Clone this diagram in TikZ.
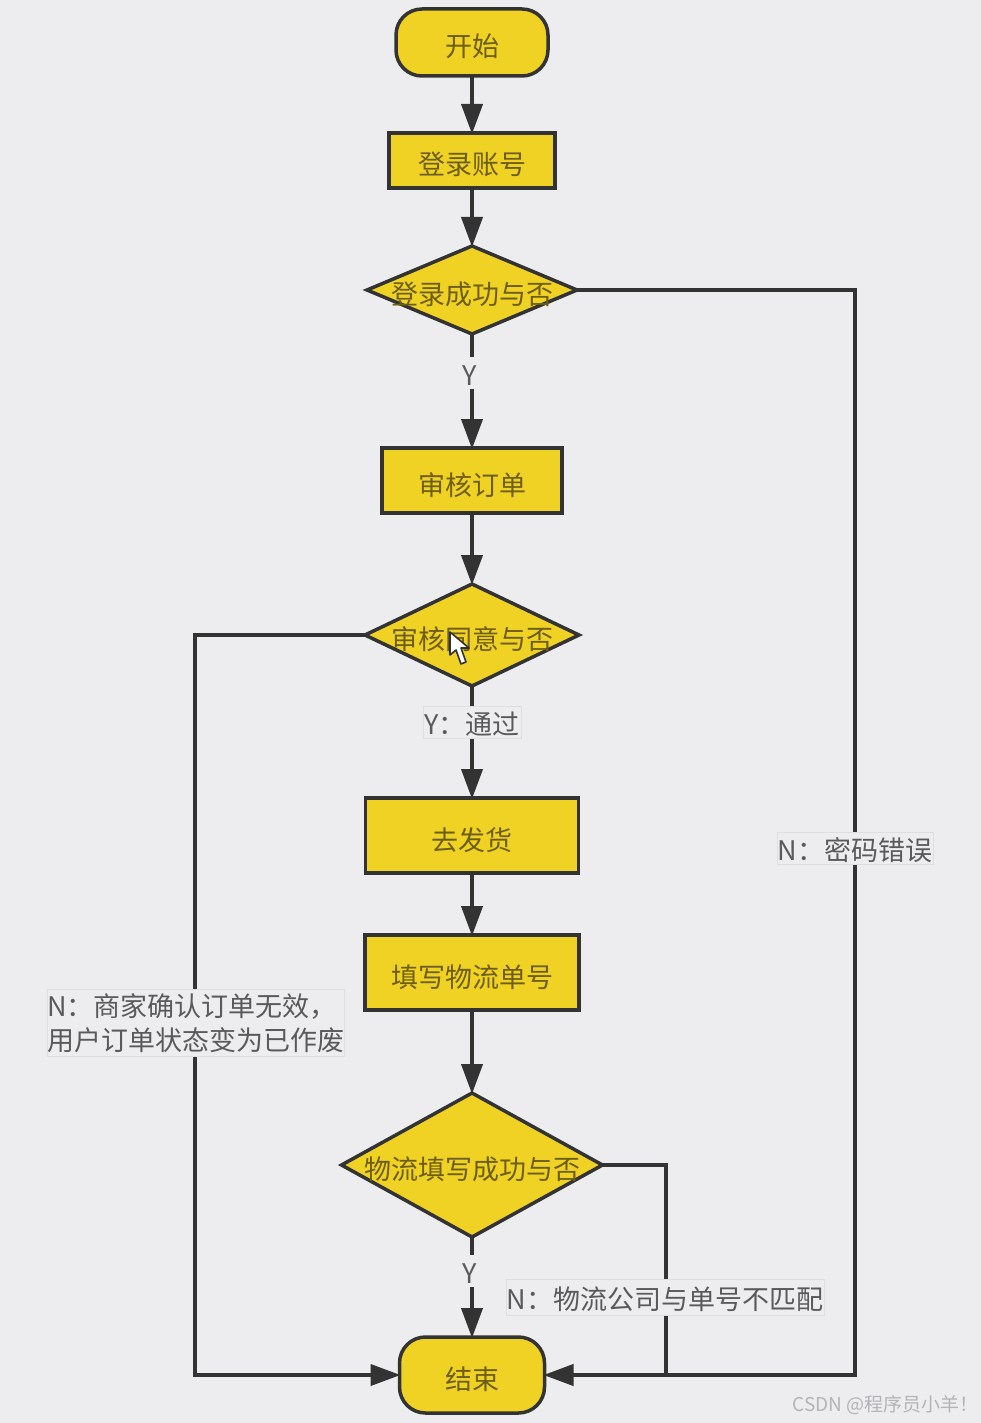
\documentclass[tikz,border=0pt]{standalone}
\usepackage{fontspec}
\setmainfont{Noto Sans CJK SC}
\usetikzlibrary{shapes.geometric,arrows.meta,positioning}
\definecolor{bgc}{HTML}{EDECEE}
\definecolor{fillc}{HTML}{EFD224}
\definecolor{linec}{HTML}{333333}
\definecolor{txtc}{HTML}{6E5E14}
\definecolor{lblc}{HTML}{5A5A5C}
\definecolor{edgec}{HTML}{DEDEE0}
\definecolor{markc}{HTML}{B4B4B8}
\newcommand{\fsz}{\fontsize{27}{34}\selectfont}
\newcommand{\ctext}[1]{\makebox[0pt]{\smash{\raisebox{-14.5pt}{#1}}}}
\newcommand{\ltext}[1]{\smash{\raisebox{-12pt}{#1}}}
\newcommand{\fwcolon}{\symbol{"FF1A}}
\newcommand{\fwcomma}{\symbol{"FF0C}}
\newcommand{\fwbang}{\symbol{"FF01}}
\tikzset{
  x=1pt,y=-1pt,
  shapebase/.style={draw=linec,line width=3.5pt,fill=fillc,text=txtc,font=\fsz,inner sep=0pt,outer sep=0pt},
  termbox/.style={shapebase,rectangle,rounded corners=26pt,minimum width=#1},
  procbox/.style={shapebase,rectangle},
  decbox/.style={shapebase,diamond},
  flow/.style={draw=linec,line width=4pt,-{Triangle[length=30pt,width=21pt]},shorten >=-1pt},
  plainflow/.style={draw=linec,line width=4pt},
  lbl/.style={fill=bgc,draw=edgec,line width=1pt,text=lblc,font=\fsz,inner sep=0pt,outer sep=0pt,align=left},
  ylbl/.style={fill=bgc,text=lblc,font=\fsz,inner sep=0pt,outer sep=0pt},
}
\begin{document}
\begin{tikzpicture}
\path[use as bounding box,fill=bgc] (0,0) rectangle (981,1423);

\node[termbox=152pt,minimum height=67pt] (start) at (472,42.5) {\ctext{开始}};
\node[procbox,minimum width=166pt,minimum height=55pt] (login) at (472,160.5) {\ctext{登录账号}};
\node[decbox,minimum width=210pt,minimum height=88pt] (d1) at (472,290) {\ctext{登录成功与否}};
\node[procbox,minimum width=180pt,minimum height=65pt] (audit) at (472,480.5) {\ctext{审核订单}};
\node[decbox,minimum width=214pt,minimum height=102pt] (d2) at (472,635) {\ctext{审核同意与否}};
\node[procbox,minimum width=213pt,minimum height=75pt] (ship) at (472,835.5) {\ctext{去发货}};
\node[procbox,minimum width=214pt,minimum height=75pt] (fill) at (472,972.5) {\ctext{填写物流单号}};
\node[decbox,minimum width=261pt,minimum height=144pt] (d3) at (472,1165) {\ctext{物流填写成功与否}};
\node[termbox=145pt,minimum height=76pt] (end) at (472,1375) {\ctext{结束}};

\coordinate (rtop) at (855,290);
\coordinate (rbot) at (855,1375);
\coordinate (ltop) at (195,635);
\coordinate (lbot) at (195,1375);
\coordinate (mtop) at (666,1165);
\coordinate (mbot) at (666,1375);

\draw[flow] (start) -- (login);
\draw[flow] (login) -- (d1);
\draw[flow] (d1) -- (audit);
\draw[flow] (audit) -- (d2);
\draw[flow] (d2) -- (ship);
\draw[flow] (ship) -- (fill);
\draw[flow] (fill) -- (d3);
\draw[flow] (d3) -- (end);
\draw[flow] (d1.east) -- (rtop) -- (rbot) -- (end.east);
\draw[flow] (d2.west) -- (ltop) -- (lbot) -- (end.west);
\draw[plainflow] (d3.east) -- (mtop) -- (mbot);

\node[ylbl,minimum width=20pt,minimum height=32pt] (y1) at (470,373) {\ltext{Y}};
\node[lbl,minimum width=98pt,minimum height=32pt] (y2) at (472,722) {\ltext{Y\fwcolon 通过}};
\node[lbl,minimum width=156pt,minimum height=32pt] (n1) at (855,848) {\ltext{N\fwcolon 密码错误}};
\node[lbl,minimum width=297pt,minimum height=67pt,align=left,text width=297pt] (n2) at (195.5,1023) {N\fwcolon 商家确认订单无效\fwcomma\\用户订单状态变为已作废};
\node[ylbl,minimum width=20pt,minimum height=32pt] (y3) at (470,1271) {\ltext{Y}};
\node[lbl,minimum width=318pt,minimum height=36pt] (n3) at (665,1297) {\ltext{N\fwcolon 物流公司与单号不匹配}};

\node[text=markc,font=\fontsize{19}{20}\selectfont,inner sep=0pt,anchor=east] (mark) at (979,1405) {CSDN @程序员小羊\fwbang};

\draw[fill=white,draw=linec,line width=1.6pt,line join=round]
  (450,632) -- (450,655) -- (456,650) -- (461,664) -- (466,662) -- (461,648) -- (469,648) -- cycle;
\end{tikzpicture}
\end{document}
